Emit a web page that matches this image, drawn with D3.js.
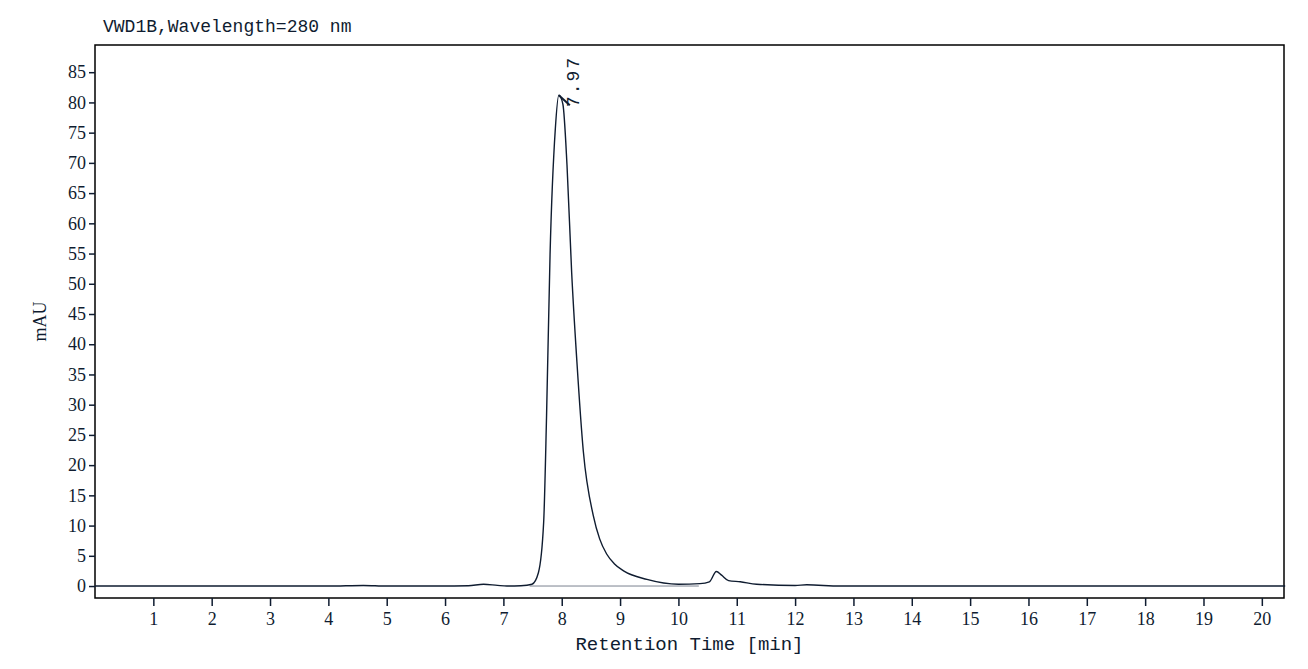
<!DOCTYPE html>
<html><head><meta charset="utf-8">
<script src="https://cdn.jsdelivr.net/npm/d3@7"></script>
<style>body{margin:0;background:#fff}</style>
</head><body>
<script>
// Chromatogram trace (time in min, signal in mAU)
const times = [0, 4.0, 4.6, 5.0, 5.91, 6.4, 6.66, 6.9, 7.06, 7.3, 7.49, 7.6, 7.69, 7.74, 7.8, 7.89, 7.95, 8.02, 8.09, 8.17, 8.26, 8.37, 8.54, 8.65, 8.77, 8.9, 9.06, 9.46, 10.0, 10.37, 10.53, 10.65, 10.74, 10.86, 11.06, 11.34, 12.0, 12.2, 12.77, 20.4];
const signal = [0, 0, 0.1, 0, 0, 0.05, 0.3, 0.1, 0, 0.05, 0.3, 2.2, 10.5, 28.2, 54.9, 75.6, 81.2, 79.7, 69.7, 51.9, 37.1, 22.3, 11.7, 7.8, 5.3, 3.7, 2.5, 1.1, 0.3, 0.4, 0.7, 2.4, 1.8, 0.9, 0.7, 0.3, 0.1, 0.2, 0, 0];
const xTicks = d3.range(1, 21);
const yTicks = d3.range(0, 90, 5);
const peakTime = 7.97, peakLabel = "7.97";

const W = 1308, H = 669;
const m = {left: 95, right: 1284, top: 45, bottom: 598};
const ink = "#0f1c30";
const svg = d3.select("body").append("svg").attr("width", W).attr("height", H);

const x = d3.scaleLinear().domain([0, 20.38]).range([m.left, m.right]);
const y = d3.scaleLinear().domain([-1.98, 89.5]).range([m.bottom, m.top]);

// frame
svg.append("rect").attr("x", m.left).attr("y", m.top)
  .attr("width", m.right - m.left).attr("height", m.bottom - m.top)
  .attr("fill", "none").attr("stroke", "#000").attr("stroke-width", 1.5);

// axes
const xa = svg.append("g").attr("transform", `translate(0,${m.bottom})`)
  .call(d3.axisBottom(x).tickValues(xTicks).tickSize(8).tickSizeOuter(0).tickFormat(d3.format("d")));
const ya = svg.append("g").attr("transform", `translate(${m.left},0)`)
  .call(d3.axisLeft(y).tickValues(yTicks).tickSize(6).tickSizeOuter(0).tickFormat(d3.format("d")));
[xa, ya].forEach(g => {
  g.select(".domain").remove();
  g.selectAll("line").attr("stroke", ink).attr("stroke-width", 1.5);
  g.selectAll("text").attr("fill", ink).style("font-family", "'Liberation Serif', serif").style("font-size", "18px");
});
xa.selectAll("text").attr("dy", "0.9em");

// baseline under the peak
svg.append("line").attr("x1", x(7.45)).attr("x2", x(10.35)).attr("y1", y(0)).attr("y2", y(0))
  .attr("stroke", "#7a8290").attr("stroke-width", 1);

// trace
const line = d3.line().x((d, i) => x(d)).y((d, i) => y(signal[i])).curve(d3.curveMonotoneX);
svg.append("path").attr("d", line(times)).attr("fill", "none").attr("stroke", ink).attr("stroke-width", 1.4);

// peak marker and label
const px = x(peakTime - 0.02), py = y(81.2);
svg.append("line").attr("x1", px).attr("y1", py).attr("x2", px + 11).attr("y2", py + 10)
  .attr("stroke", ink).attr("stroke-width", 2);
svg.append("text").attr("transform", `translate(${px + 20},${py + 12}) rotate(-90)`)
  .attr("fill", ink).style("font-family", "'Liberation Mono', monospace").style("font-size", "18px")
  .style("letter-spacing", "2px")
  .text(peakLabel);

// titles
svg.append("text").attr("x", 103).attr("y", 32).attr("fill", ink)
  .style("font-family", "'Liberation Mono', monospace").style("font-size", "18px")
  .text("VWD1B,Wavelength=280 nm");
svg.append("text").attr("x", (m.left + m.right) / 2).attr("y", 650).attr("text-anchor", "middle").attr("fill", ink)
  .style("font-family", "'Liberation Mono', monospace").style("font-size", "19px")
  .text("Retention Time [min]");
svg.append("text").attr("transform", `translate(46,${(m.top + m.bottom) / 2}) rotate(-90)`)
  .attr("text-anchor", "middle").attr("fill", ink)
  .style("font-family", "'Liberation Serif', serif").style("font-size", "18px").text("mAU");
</script>
</body></html>
